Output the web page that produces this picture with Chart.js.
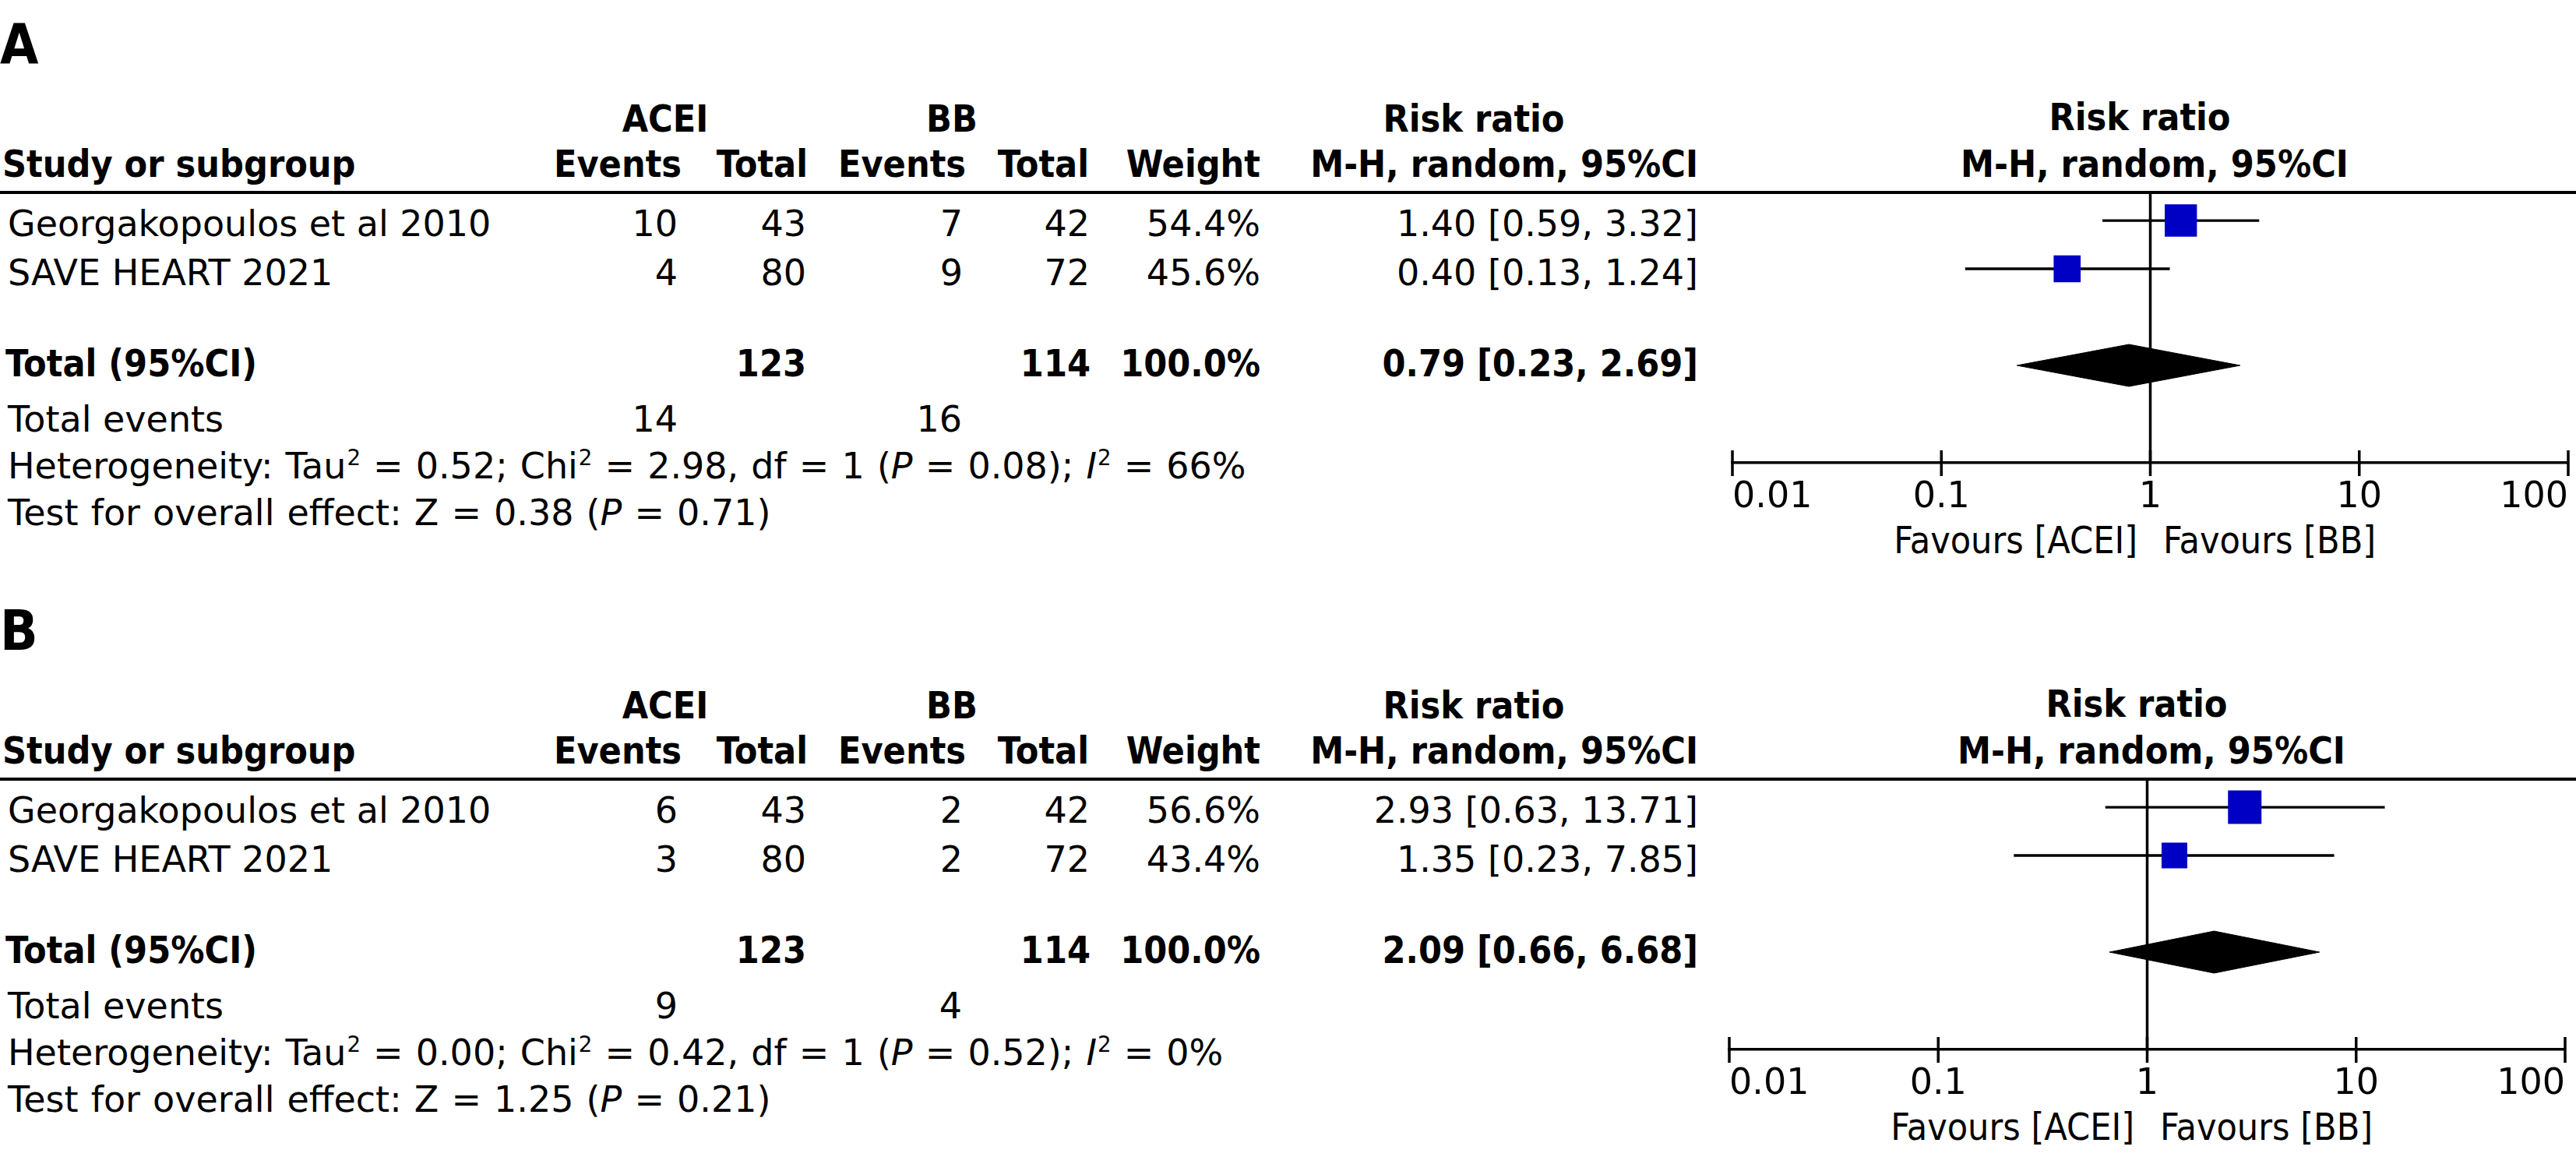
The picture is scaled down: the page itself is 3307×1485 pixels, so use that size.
<!DOCTYPE html>
<html><head><meta charset="utf-8">
<script src="https://cdn.jsdelivr.net/npm/chart.js@4.4.0/dist/chart.umd.min.js"></script>
<style>
html,body{margin:0;padding:0;background:#fff;}
#page{position:relative;width:3307px;height:1485px;overflow:hidden;font-family:"DejaVu Sans",sans-serif;color:#000;}
.t{position:absolute;white-space:nowrap;line-height:0;font-size:46px;}
.b{font-family:"DejaVu Sans Condensed","DejaVu Sans",sans-serif;font-weight:bold;font-size:48px;}
.fav{font-family:"DejaVu Sans Condensed","DejaVu Sans",sans-serif;font-size:48px;}
.big{font-size:71px;}
.ws{word-spacing:1.5px;}
.t sup{font-size:0.6em;position:relative;top:-0.6em;vertical-align:baseline;line-height:0;margin-left:1px;}
.hl{position:absolute;left:0;width:3307px;height:4px;background:#000;}
canvas{position:absolute;}
</style></head><body><div id="page"></div>
<script>
// ---------- data ----------
const studies = ['Georgakopoulos et al 2010', 'SAVE HEART 2021'];
const tickValues = [0.01, 0.1, 1, 10, 100];
const tickLabels = ['0.01', '0.1', '1', '10', '100'];

// Panel A
const eventsAceiA = [10, 4];
const totalAceiA  = [43, 80];
const eventsBbA   = [7, 9];
const totalBbA    = [42, 72];
const weightA     = [54.4, 45.6];
const rrA         = [1.40, 0.40];
const rrLowA      = [0.59, 0.13];
const rrHighA     = [3.32, 1.24];
const pooledA     = [0.79, 0.23, 2.69];
const totalsA     = [123, 114];
const totalEventsA = [14, 16];
const hetA        = ['0.52', '2.98', '1', '0.08', '66%'];
const overallA    = ['0.38', '0.71'];

// Panel B
const eventsAceiB = [6, 3];
const totalAceiB  = [43, 80];
const eventsBbB   = [2, 2];
const totalBbB    = [42, 72];
const weightB     = [56.6, 43.4];
const rrB         = [2.93, 1.35];
const rrLowB      = [0.63, 0.23];
const rrHighB     = [13.71, 7.85];
const pooledB     = [2.09, 0.66, 6.68];
const totalsB     = [123, 114];
const totalEventsB = [9, 4];
const hetB        = ['0.00', '0.42', '1', '0.52', '0%'];
const overallB    = ['1.25', '0.21'];

// ---------- layout ----------
const page = document.getElementById('page');
const PW = 3307;
function txt(html, x, y, align, cls) {
  const d = document.createElement('div');
  d.className = 't ' + (cls || '');
  d.innerHTML = html;
  d.style.top = y + 'px';
  if (align === 'left') d.style.left = x + 'px';
  else if (align === 'right') d.style.right = (PW - x) + 'px';
  else { d.style.left = x + 'px'; d.style.transform = 'translateX(-50%)'; }
  page.appendChild(d);
}
const f2 = v => v.toFixed(2);
const rrText = (r, l, h) => `${f2(r)} [${f2(l)}, ${f2(h)}]`;

const tickPlugin = {
  id: 'crossTicks',
  afterDraw(chart) {
    const s = chart.scales.x, ctx = chart.ctx;
    ctx.save();
    ctx.strokeStyle = '#000';
    ctx.lineWidth = 3.5;
    ctx.beginPath();
    tickValues.forEach(v => {
      const x = s.getPixelForValue(v);
      ctx.moveTo(x, s.top - 16);
      ctx.lineTo(x, s.top + 17);
    });
    ctx.stroke();
    ctx.restore();
  }
};

function panel(d) {
  const oy = d.oy;
  txt(d.label, 0, oy + 57, 'left', 'b big');
  txt('ACEI', 854, oy + 152, 'center', 'b');
  txt('BB', 1222, oy + 152, 'center', 'b');
  txt('Risk ratio', 1892, oy + 152, 'center', 'b');
  txt('Risk ratio', 2747 + d.dx, oy + 150, 'center', 'b');
  const hy = oy + 210;
  txt('Study or subgroup', 3, hy, 'left', 'b');
  txt('Events', 875, hy, 'right', 'b');
  txt('Total', 1037, hy, 'right', 'b');
  txt('Events', 1240, hy, 'right', 'b');
  txt('Total', 1398, hy, 'right', 'b');
  txt('Weight', 1618, hy, 'right', 'b');
  txt('M-H, random, 95%CI', 2180, hy, 'right', 'b');
  txt('M-H, random, 95%CI', 2766 + d.dx, hy, 'center', 'b');

  const hl = document.createElement('div');
  hl.className = 'hl'; hl.style.top = (oy + 245) + 'px';
  page.appendChild(hl);

  const rowY = [oy + 287, oy + 350];
  studies.forEach((s, i) => {
    txt(s, 10, rowY[i], 'left');
    txt(d.ea[i], 870, rowY[i], 'right');
    txt(d.ta[i], 1035, rowY[i], 'right');
    txt(d.eb[i], 1236, rowY[i], 'right');
    txt(d.tb[i], 1399, rowY[i], 'right');
    txt(d.w[i].toFixed(1) + '%', 1618, rowY[i], 'right');
    txt(rrText(d.rr[i], d.lo[i], d.hi[i]), 2180, rowY[i], 'right');
  });
  const ty = oy + 466;
  txt('Total (95%CI)', 7, ty, 'left', 'b');
  txt(d.totals[0], 1035, ty, 'right', 'b');
  txt(d.totals[1], 1400, ty, 'right', 'b');
  txt('100.0%', 1618, ty, 'right', 'b');
  txt(rrText(d.pooled[0], d.pooled[1], d.pooled[2]), 2180, ty, 'right', 'b');
  const ey = oy + 538;
  txt('Total events', 10, ey, 'left');
  txt(d.te[0], 870, ey, 'right');
  txt(d.te[1], 1235, ey, 'right');
  const h = d.het;
  txt(`Heterogeneity: Tau<sup>2</sup> = ${h[0]}; Chi<sup>2</sup> = ${h[1]}, df = ${h[2]} (<i>P</i> = ${h[3]}); <i>I</i><sup>2</sup> = ${h[4]}`, 10, oy + 598, 'left', 'ws');
  txt(`Test for overall effect: Z = ${d.ov[0]} (<i>P</i> = ${d.ov[1]})`, 10, oy + 658, 'left', 'ws');

  // favours labels
  txt('Favours [ACEI]', 2744 + d.dx, oy + 693, 'right', 'fav');
  txt('Favours [BB]', 2777 + d.dx, oy + 693, 'left', 'fav');

  // chart
  const cv = document.createElement('canvas');
  const CW = 1157, CH = 520;
  cv.width = CW; cv.height = CH;
  cv.style.left = (2150 + d.dx) + 'px';
  cv.style.top = (oy + 200) + 'px';
  page.appendChild(cv);

  const datasets = [];
  datasets.push({ data: [{x: 1, y: -0.565}, {x: 1, y: 5.016}], showLine: true, borderColor: '#000', borderWidth: 3.5, pointRadius: 0, order: 3 });
  studies.forEach((s, i) => {
    datasets.push({ data: [{x: d.lo[i], y: i}, {x: d.hi[i], y: i}], showLine: true, borderColor: '#000', borderWidth: 3.3, pointRadius: 0, order: 2 });
  });
  datasets.push({
    data: d.rr.map((r, i) => ({x: r, y: i})),
    pointStyle: 'rect',
    pointRadius: d.w.map(w => (0.76 * w) / Math.SQRT2),
    backgroundColor: '#0000C4', borderColor: '#0000C4', borderWidth: 0, order: 0
  });
  const p = d.pooled, hh = 0.435, yr = 3;
  datasets.push({
    data: [{x: p[1], y: yr}, {x: p[0], y: yr - hh}, {x: p[2], y: yr}, {x: p[0], y: yr + hh}, {x: p[1], y: yr}],
    showLine: true, fill: 'shape', backgroundColor: '#000', borderColor: '#000', borderWidth: 1,
    pointRadius: 0, tension: 0, order: 1
  });

  new Chart(cv, {
    type: 'scatter',
    data: { datasets },
    plugins: [tickPlugin],
    options: {
      responsive: false, animation: false, devicePixelRatio: 1, events: [],
      layout: { autoPadding: false, padding: { left: 74, right: 10, top: 48, bottom: 0 } },
      plugins: { legend: { display: false }, tooltip: { enabled: false } },
      scales: {
        x: {
          type: 'logarithmic', min: 0.01, max: 100, position: 'bottom',
          afterBuildTicks: s => { s.ticks = tickValues.map(v => ({ value: v })); },
          afterFit: s => { s.height = CH - 48 - 346; s.paddingLeft = 0; s.paddingRight = 0; },
          grid: { display: false, drawTicks: false, drawOnChartArea: false },
          border: { display: true, color: '#000', width: 3.5 },
          ticks: {
            autoSkip: false, maxRotation: 0, align: 'inner', padding: 17, color: '#000',
            font: { family: '"DejaVu Sans",sans-serif', size: 46 },
            callback: (v, i) => tickLabels[i]
          }
        },
        y: { type: 'linear', reverse: true, min: -0.565, max: 5.016, display: false }
      }
    }
  });
}

panel({ label: 'A', oy: 0, dx: 0, ea: eventsAceiA, ta: totalAceiA, eb: eventsBbA, tb: totalBbA, w: weightA,
  rr: rrA, lo: rrLowA, hi: rrHighA, pooled: pooledA, totals: totalsA, te: totalEventsA, het: hetA, ov: overallA });
panel({ label: 'B', oy: 753, dx: -4, ea: eventsAceiB, ta: totalAceiB, eb: eventsBbB, tb: totalBbB, w: weightB,
  rr: rrB, lo: rrLowB, hi: rrHighB, pooled: pooledB, totals: totalsB, te: totalEventsB, het: hetB, ov: overallB });
</script>
</body></html>
